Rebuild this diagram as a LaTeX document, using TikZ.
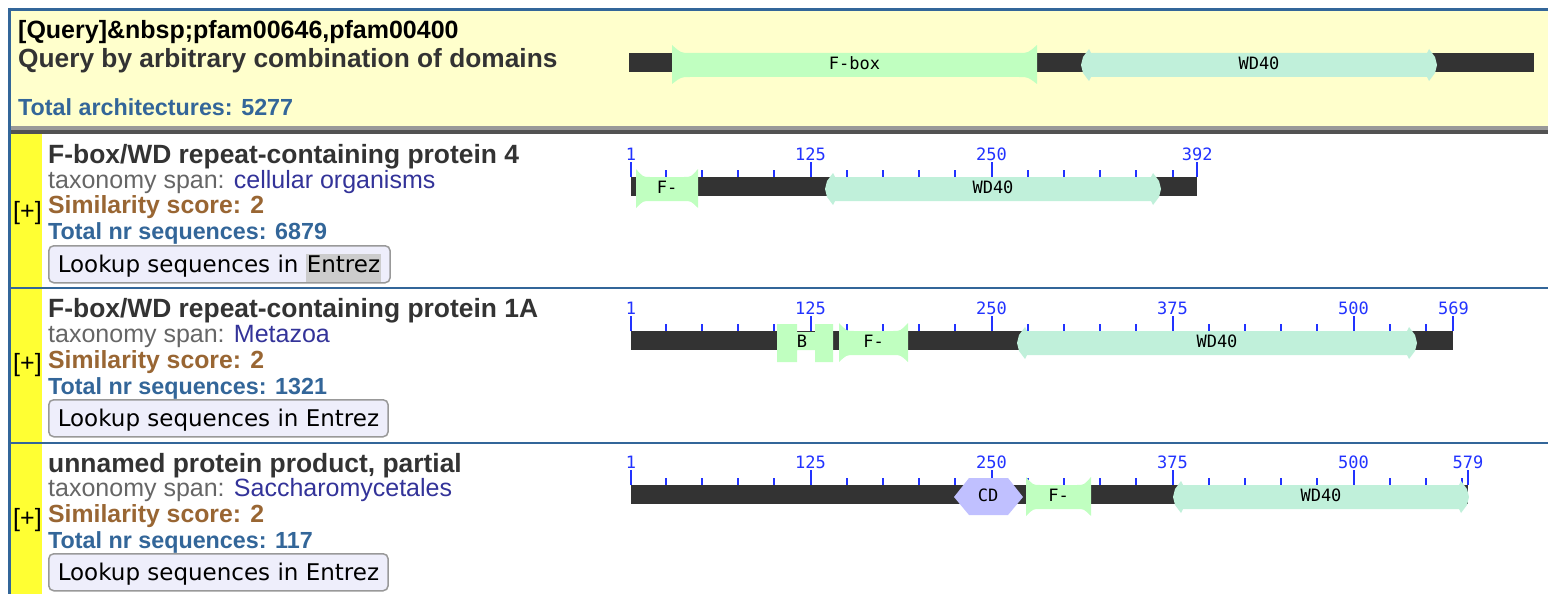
\documentclass[tikz,border=0pt]{standalone}
\usepackage{fontspec}
\setmainfont{Liberation Sans}
\newfontfamily\btnfont{DejaVu Sans}
\newfontfamily\pixfont{DejaVu Sans Mono}
\usetikzlibrary{positioning}

\definecolor{hdrbg}{HTML}{FFFFCC}
\definecolor{rulec}{HTML}{336699}
\definecolor{stripc}{HTML}{FFFF33}
\definecolor{barc}{HTML}{333333}
\definecolor{fboxc}{HTML}{C0FFC0}
\definecolor{wdc}{HTML}{C0F0DA}
\definecolor{cdc}{HTML}{C0C0FF}
\definecolor{tickc}{HTML}{2233FF}
\definecolor{titlec}{HTML}{333333}
\definecolor{taxc}{HTML}{666666}
\definecolor{linkc}{HTML}{333399}
\definecolor{simc}{HTML}{996633}
\definecolor{totc}{HTML}{336699}
\definecolor{btnc}{HTML}{EEEEFB}
\definecolor{btnline}{HTML}{999999}
\definecolor{selc}{HTML}{CCCCCC}

\def\rs{1.448}

% bar with ruler: bar top, last residue, major ticks, name
\newcommand{\seqbar}[4]{%
  \fill[barc] (631,#1) rectangle ({631+(#2-1)*\rs},#1+19);
  \foreach \r in {25,50,...,#2} \draw[tick] ({631+(\r-1)*\rs},#1) -- ++(0,-7);
  \foreach \r in {#3} {
    \draw[tick] ({631+(\r-1)*\rs},#1) -- ++(0,-15);
    \node[rulbl] (#4\r) at ({631+(\r-1)*\rs},#1-17) {\r};
  }
}
% F-box like domain: x0, x1, bar top, flare, name, label
\newcommand{\flaredom}[6]{%
  \fill[fboxc] (#1,#3-8) .. controls (#1+#4*0.5,#3) .. (#1+#4,#3) -- (#2-#4,#3)
    .. controls (#2-#4*0.5,#3) .. (#2,#3-8) -- (#2,#3+31)
    .. controls (#2-#4*0.5,#3+24) .. (#2-#4,#3+24) -- (#1+#4,#3+24)
    .. controls (#1+#4*0.5,#3+24) .. (#1,#3+31) -- cycle;
  \node[domlbl] (#5) at ({(#1+#2)/2},#3+10) {#6};
}
% WD40 domain: x0, x1, bar top, name
\newcommand{\wddom}[4]{%
  \fill[wdc] (#1+2,#3+4) -- (#1+8,#3-4) -- (#1+10,#3) -- (#2-10,#3) -- (#2-8,#3-4)
    -- (#2-2,#3+4) -- (#2,#3+12) -- (#2-2,#3+20) -- (#2-8,#3+28) -- (#2-10,#3+24)
    -- (#1+10,#3+24) -- (#1+8,#3+28) -- (#1+2,#3+20) -- (#1,#3+12) -- cycle;
  \node[domlbl] (#4) at ({(#1+#2)/2},#3+10) {WD40};
}

\begin{document}
\begin{tikzpicture}[x=1pt, y=-1pt,
  hdrA/.style={anchor=base west, inner sep=0, text=black, font=\bfseries\fontsize{25}{30}\selectfont},
  hdrB/.style={anchor=base west, inner sep=0, text=titlec, font=\bfseries\fontsize{26.3}{30}\selectfont},
  hdrC/.style={anchor=base west, inner sep=0, text=totc, font=\bfseries\fontsize{23.3}{28}\selectfont},
  ttl/.style={anchor=base west, inner sep=0, text=titlec, font=\bfseries\fontsize{26.4}{30}\selectfont},
  tax/.style={anchor=base west, inner sep=0, font=\fontsize{25}{30}\selectfont},
  sim/.style={anchor=base west, inner sep=0, text=simc, font=\bfseries\fontsize{24.8}{30}\selectfont},
  tot/.style={anchor=base west, inner sep=0, text=totc, font=\bfseries\fontsize{23.3}{28}\selectfont},
  plus/.style={anchor=west, inner sep=0, text=black, font=\fontsize{25}{28}\selectfont},
  btn/.style={anchor=north west, draw=btnline, line width=1.5, rounded corners=5, fill=btnc,
    minimum height=37, inner xsep=9, text height=19, text depth=2, text=black,
    font=\btnfont\fontsize{23}{26}\selectfont},
  domlbl/.style={inner sep=0, text=black, font=\pixfont\fontsize{17}{17}\selectfont},
  rulbl/.style={anchor=base, inner sep=0, text=tickc, font=\pixfont\fontsize{17}{17}\selectfont},
  tick/.style={draw=tickc, line width=2}]

\fill[white] (0,0) rectangle (1548,594);
\useasboundingbox (0,0) rectangle (1548,594);

% header
\fill[hdrbg] (10,10) rectangle (1548,126);
\fill[btnline] (10,126) rectangle (1548,130);
\fill[barc!85] (10,130) rectangle (1548,134);
\draw[rulec, line width=3] (8,9.5) -- (1548,9.5);
\draw[rulec, line width=3] (9.5,8) -- (9.5,594);
\fill[stripc] (11,134) rectangle (42,594);
\draw[rulec, line width=2] (11,287.5) -- (1548,287.5);
\draw[rulec, line width=2] (11,442.5) -- (1548,442.5);

\node[hdrA] (qid) at (18,39) {[Query]\&nbsp;pfam00646,pfam00400};
\node[hdrB] (qdesc) at (18,68) {Query by arbitrary combination of domains};
\node[hdrC] (qarch) at (18,115) {Total architectures: 5277};

\fill[barc] (629,53) rectangle (1534,72);
\flaredom{672}{1037}{53}{18}{qfbox}{F-box}
\wddom{1081}{1437}{53}{qwd}

% row 1
\node[plus] (p1) at (13,213) {[+]};
\node[ttl] (t1) at (48,163) {F-box/WD repeat-containing protein 4};
\node[tax] (x1) at (48,188) {\color{taxc}taxonomy span: \color{linkc}cellular organisms};
\node[sim] (s1) at (48,213) {Similarity score: 2};
\node[tot] (n1) at (48,239) {Total nr sequences: 6879};
\node[btn] (b1) at (48,245) {Lookup sequences in {\fboxsep=1pt\colorbox{selc}{\strut Entrez}}};

\seqbar{177}{392}{1,125,250,392}{ra}
\flaredom{636}{698}{177}{14}{f1}{F-}
\wddom{825}{1161}{177}{w1}

% row 2
\node[plus] (p2) at (13,365) {[+]};
\node[ttl] (t2) at (48,317) {F-box/WD repeat-containing protein 1A};
\node[tax] (x2) at (48,342) {\color{taxc}taxonomy span: \color{linkc}Metazoa};
\node[sim] (s2) at (48,368) {Similarity score: 2};
\node[tot] (n2) at (48,394) {Total nr sequences: 1321};
\node[btn] (b2) at (48,399) {Lookup sequences in Entrez};

\seqbar{331}{569}{1,125,250,375,500,569}{rb}
\fill[fboxc] (777,324) rectangle (797,362) (797,332) rectangle (815,350) (815,324) rectangle (833,362);
\node[domlbl] (bb2) at (802,341) {B};
\flaredom{839}{908}{331}{15}{f2}{F-}
\wddom{1017}{1417}{331}{w2}

% row 3
\node[plus] (p3) at (13,520) {[+]};
\node[ttl] (t3) at (48,472) {unnamed protein product, partial};
\node[tax] (x3) at (48,496) {\color{taxc}taxonomy span: \color{linkc}Saccharomycetales};
\node[sim] (s3) at (48,522) {Similarity score: 2};
\node[tot] (n3) at (48,548) {Total nr sequences: 117};
\node[btn] (b3) at (48,553) {Lookup sequences in Entrez};

\seqbar{485}{579}{1,125,250,375,500,579}{rc}
\fill[cdc] (954,497) -- (969,478) -- (1008,478) -- (1023,497) -- (1008,515) -- (969,515) -- cycle;
\node[domlbl] (cd3) at (988,495) {CD};
\flaredom{1026}{1091}{485}{14}{f3}{F-}
\wddom{1173}{1469}{485}{w3}
\end{tikzpicture}
\end{document}
